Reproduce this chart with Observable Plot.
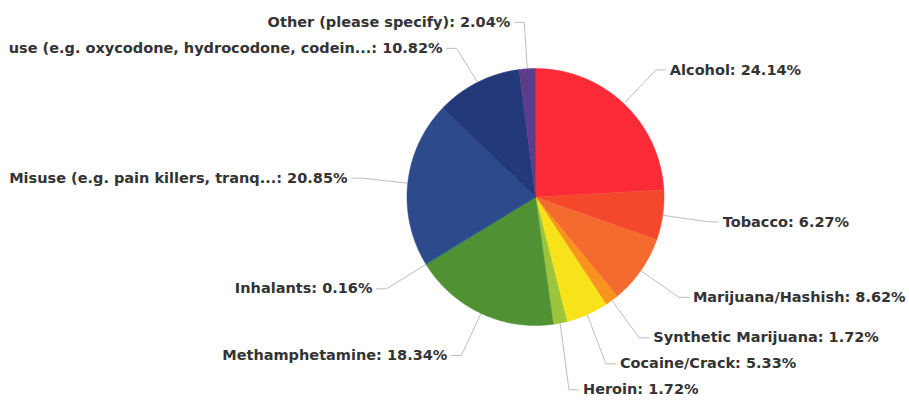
<!DOCTYPE html>
<html><head><meta charset="utf-8">
<script src="https://cdn.jsdelivr.net/npm/d3@7"></script>
<script src="https://cdn.jsdelivr.net/npm/@observablehq/plot@0.6"></script>
<style>body{margin:0;background:#fff}</style>
</head><body><div id="chart"></div>
<script>
// ---- data ----
const categories = [
  "Alcohol", "Tobacco", "Marijuana/Hashish", "Synthetic Marijuana", "Cocaine/Crack",
  "Heroin", "Methamphetamine", "Inhalants", "Misuse (e.g. pain killers, tranq...",
  "use (e.g. oxycodone, hydrocodone, codein...", "Other (please specify)"
];
const shares = [24.14, 6.27, 8.62, 1.72, 5.33, 1.72, 18.34, 0.16, 20.85, 10.82, 2.04];
const colors = ["#fa2a37", "#f4482c", "#f46a2f", "#f9931f", "#f8e31a", "#9cc43c",
                "#4f9133", "#2f7f5f", "#2c4a8c", "#24397a", "#5b3d8a"];

// ---- layout (pixels) ----
const W = 909, H = 404, cx = 535, cy = 196.5, r = 128.5;
const Rl = 175 / r;          // label radius in pie-radius units
const gap = 26 / r;          // min vertical label spacing
const pad = 10 / r, tpad = 14 / r;

const total = d3.sum(shares);
let acc = 0;
const slices = shares.map((v, i) => {
  const a0 = acc / total * 2 * Math.PI; acc += v;
  const a1 = acc / total * 2 * Math.PI;
  const pts = [{x: 0, y: 0}];
  const n = Math.max(2, Math.ceil((a1 - a0) / 0.01));
  for (let k = 0; k <= n; k++) {
    const a = a0 + (a1 - a0) * k / n;
    pts.push({x: Math.sin(a), y: Math.cos(a)});
  }
  pts.push({x: 0, y: 0});
  return {i, a0, a1, mid: (a0 + a1) / 2, pts, color: colors[i]};
});

// label positions
const labels = slices.map(s => ({
  id: s.i,
  right: Math.sin(s.mid) >= 0,
  ex: Math.sin(s.mid), ey: Math.cos(s.mid),
  y0: Rl * Math.cos(s.mid),
  y: Rl * Math.cos(s.mid),
  text: `${categories[s.i]}: ${shares[s.i].toFixed(2)}%`
}));
for (const side of [true, false]) {
  const L = labels.filter(d => d.right === side).sort((a, b) => b.y - a.y);
  for (let k = 1; k < L.length; k++) if (L[k].y > L[k - 1].y - gap) L[k].y = L[k - 1].y - gap;
}
const conns = [];
for (const d of labels) {
  const s = d.right ? 1 : -1;
  const bx = Math.max(Math.sqrt(Math.max(Rl * Rl - d.y0 * d.y0, 0)), Math.abs(d.ex) + 2 / r);
  d.lx = s * (bx + tpad);
  conns.push({id: d.id, x: d.ex * 1.005, y: d.ey * 1.005});
  conns.push({id: d.id, x: s * bx, y: d.y});
  conns.push({id: d.id, x: s * (bx + pad), y: d.y});
}

const font = {fontFamily: "DejaVu Sans", fontWeight: "bold", fontSize: 14.5, fill: "#333"};
const chart = Plot.plot({
  width: W, height: H, margin: 0,
  x: {domain: [-cx / r, (W - cx) / r], range: [0, W], axis: null},
  y: {domain: [-(H - cy) / r, cy / r], range: [H, 0], axis: null},
  marks: [
    Plot.line(conns, {x: "x", y: "y", z: "id", stroke: "#bdbdbd", strokeWidth: 1}),
    ...slices.map(s => Plot.line(s.pts, {x: "x", y: "y", fill: s.color, stroke: s.color, strokeWidth: 0.5})),
    Plot.text(labels.filter(d => d.right), {x: "lx", y: "y", text: "text", textAnchor: "start", ...font}),
    Plot.text(labels.filter(d => !d.right), {x: "lx", y: "y", text: "text", textAnchor: "end", ...font})
  ]
});
document.getElementById("chart").appendChild(chart);
</script>
</body></html>
